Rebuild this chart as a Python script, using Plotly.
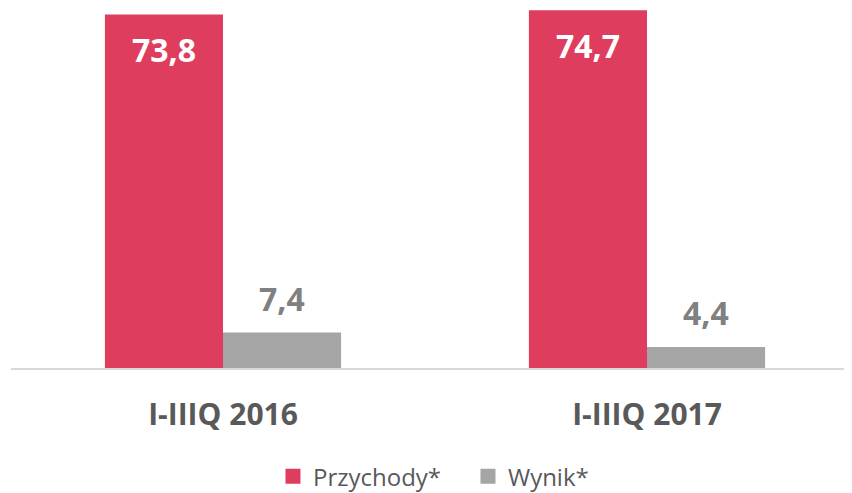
import plotly.graph_objects as go

categories = ["I-IIIQ 2016", "I-IIIQ 2017"]
przychody = [73.8, 74.7]
wynik = [7.4, 4.4]
series_names = ["Przychody*", "Wynik*"]

RED = "#DF3D5D"
GRAY = "#A5A5A5"

def fmt(v):
    return f"{v:.1f}".replace(".", ",")

fig = go.Figure()
fig.add_trace(go.Bar(x=categories, y=przychody, name=series_names[0],
                     marker=dict(color=RED, line=dict(width=0)), showlegend=False))
fig.add_trace(go.Bar(x=categories, y=wynik, name=series_names[1],
                     marker=dict(color=GRAY, line=dict(width=0)), showlegend=False))
# legend entries
fig.add_trace(go.Scatter(x=[None], y=[None], mode="markers", name=series_names[0],
                         marker=dict(symbol="square", size=15, color=RED)))
fig.add_trace(go.Scatter(x=[None], y=[None], mode="markers", name=series_names[1],
                         marker=dict(symbol="square", size=15, color=GRAY)))

bar_half = 59
for c, v in zip(categories, przychody):
    fig.add_annotation(x=c, y=v, text=f"<b>{fmt(v)}</b>", showarrow=False,
                       xshift=-bar_half, yshift=-35, yanchor="middle",
                       font=dict(family="Open Sans", size=32, color="white"))
for c, v in zip(categories, wynik):
    fig.add_annotation(x=c, y=v, text=f"<b>{fmt(v)}</b>", showarrow=False,
                       xshift=bar_half, yshift=34, yanchor="middle",
                       font=dict(family="Open Sans", size=32, color="#808080"))

fig.update_layout(
    width=852, height=500,
    margin=dict(l=3, r=8, t=0, b=140),
    paper_bgcolor="white", plot_bgcolor="white",
    barmode="group", bargap=0.443, bargroupgap=0,
    font=dict(family="Open Sans", color="#595959"),
    xaxis=dict(range=[-0.5, 1.4835], showline=True, linecolor="#D9D9D9", linewidth=2,
               showgrid=False, ticks="", ticklabelstandoff=19,
               tickfont=dict(family="Open Sans", size=30, color="#595959", weight="bold")),
    yaxis=dict(range=[0, 75.16], visible=False, showgrid=False, zeroline=False),
    legend=dict(orientation="h", x=0.3115, xanchor="left", y=-0.302, yanchor="middle",
                font=dict(family="Open Sans", size=24, color="#595959"),
                entrywidth=150, itemclick=False),
)

fig.write_html("out.html")
